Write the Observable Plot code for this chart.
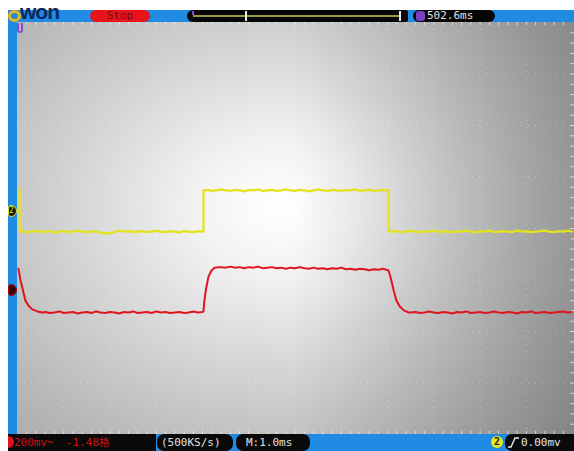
<!DOCTYPE html>
<html><head><meta charset="utf-8">
<script src="https://cdn.jsdelivr.net/npm/d3@7"></script>
<script src="https://cdn.jsdelivr.net/npm/@observablehq/plot@0.6"></script>
<style>
body{margin:0;background:#fff;width:574px;height:451px;overflow:hidden;font-family:"DejaVu Sans Mono",monospace}
#scope{position:relative;width:574px;height:451px}
.abs{position:absolute;box-sizing:border-box}
.t{position:absolute;white-space:nowrap;font-family:"DejaVu Sans Mono",monospace;font-size:11px;line-height:12px}
#plot{position:absolute;left:17px;top:22px}
</style></head><body>
<div id="scope">
  <!-- frame -->
  <div class="abs" style="left:8px;top:10px;width:566px;height:12px;background:#1f8be3"></div>
  <div class="abs" style="left:8px;top:10px;width:9px;height:424px;background:#1f8be3"></div>
  <div class="abs" style="left:8px;top:434px;width:566px;height:17px;background:#1f8be3"></div>
  <div id="plot"></div>

  <!-- top bar -->
  <div class="abs" style="left:8px;top:10px;width:13px;height:12px;border-radius:50%;border:3px solid #e8b51a"></div>
  <div class="t" style="left:20px;top:1px;font-family:'Liberation Sans',Arial,sans-serif;font-weight:bold;font-size:21px;line-height:22px;color:#0c2660;letter-spacing:-1px">won</div>
  <div class="abs" style="left:90px;top:10px;width:60px;height:12px;border-radius:6px;background:#e8141c"></div>
  <div class="t" id="stopTxt" style="left:90px;top:10px;width:60px;text-align:center;color:#7a0a0a"></div>
  <div class="abs" style="left:187px;top:10px;width:221px;height:12px;border-radius:6px 2px 2px 6px;background:#060606"></div>
  <div class="abs" style="left:193px;top:15px;width:207px;height:2px;background:#9c9a44"></div>
  <div class="abs" style="left:192px;top:11px;width:2px;height:4px;background:#8a4bd0"></div>
  <div class="abs" style="left:245px;top:11px;width:2px;height:10px;background:#e8e8e8"></div>
  <div class="abs" style="left:399px;top:11px;width:2px;height:10px;background:#e8e8e8"></div>
  <div class="abs" style="left:413px;top:10px;width:82px;height:12px;border-radius:6px;background:#060606"></div>
  <div class="abs" style="left:416px;top:11px;width:9px;height:10px;border-radius:3px;background:#7b3fc4"></div>
  <div class="t" id="trigPos" style="left:427px;top:10px;color:#e0e0e0"></div>

  <!-- left markers -->
  <div class="abs" style="left:17px;top:23px;width:6px;height:10px;border:2px solid #8a4bd0;border-top:none;border-radius:0 0 3px 3px"></div>
  <div class="abs" style="left:8px;top:205px;width:9px;height:12px;border-radius:3px 6px 6px 3px;background:#1a1a0a;border:1px solid #e3e31c"></div>
  <div class="t" style="left:9px;top:205px;font-size:8px;color:#e3e31c">2</div>
  <div class="abs" style="left:8px;top:284px;width:9px;height:12px;border-radius:3px 6px 6px 3px;background:#3a0508;border:1px solid #b00"></div>

  <!-- bottom bar -->
  <div class="abs" style="left:8px;top:434px;width:148px;height:17px;background:#0a0a0a"></div>
  <div class="abs" style="left:8px;top:436px;width:6px;height:12px;border-radius:0 6px 6px 0;background:#e0141e"></div>
  <div class="t" id="ch1Scale" style="left:14px;top:437px;color:#d0101a"></div>
  <div class="t" id="ch1Off" style="left:66px;top:437px;color:#d0101a"></div>
  <div class="abs" style="left:157px;top:434px;width:76px;height:17px;border-radius:7px;background:#0a0a0a"></div>
  <div class="t" id="rate" style="left:161px;top:437px;color:#e0e0e0"></div>
  <div class="abs" style="left:236px;top:434px;width:74px;height:17px;border-radius:7px;background:#0a0a0a"></div>
  <div class="t" id="tbase" style="left:246px;top:437px;color:#e0e0e0"></div>
  <div class="abs" style="left:505px;top:434px;width:69px;height:17px;border-radius:7px 0 0 7px;background:#0a0a0a"></div>
  <div class="abs" style="left:491px;top:436px;width:12px;height:12px;border-radius:50%;background:#e8e81a"></div>
  <div class="t" style="left:494px;top:436px;font-size:10px;font-weight:bold;color:#222">2</div>
  <svg class="abs" style="left:508px;top:437px" width="11" height="12"><polyline points="0,10 3,10 7,1 11,1" fill="none" stroke="#e8e8e8" stroke-width="1.4"/></svg>
  <div class="t" id="trigLvl" style="left:521px;top:437px;color:#e8e8e8"></div>
</div>
<script>
// status texts
const statusText = {stop: "Stop", trigPos: "502.6ms", ch1Scale: "200mv~", ch1Off: "-1.48格",
  rate: "(500KS/s)", tbase: "M:1.0ms", trigLvl: "0.00mv"};
document.getElementById("stopTxt").textContent = statusText.stop;
document.getElementById("trigPos").textContent = statusText.trigPos;
document.getElementById("ch1Scale").textContent = statusText.ch1Scale;
document.getElementById("ch1Off").textContent = statusText.ch1Off;
document.getElementById("rate").textContent = statusText.rate;
document.getElementById("tbase").textContent = statusText.tbase;
document.getElementById("trigLvl").textContent = statusText.trigLvl;

// Channel 2 (yellow): time in ms, value in divisions
const ch2T = [0.04,0.05,
 0.1,0.2,0.3,0.4,0.5,0.6,0.7,0.8,0.9,1.0,
 1.1,1.2,1.3,1.4,1.5,1.6,1.7,1.8,1.9,2.0,
 2.1,2.2,2.3,2.4,2.5,2.6,2.7,2.8,2.9,3.0,
 3.1,3.2,3.3,3.4,3.5,3.6,3.7,3.8,3.9,4.0,
 4.02,4.02,
 4.1,4.2,4.3,4.4,4.5,4.6,4.7,4.8,4.9,5.0,
 5.1,5.2,5.3,5.4,5.5,5.6,5.7,5.8,5.9,6.0,
 6.1,6.2,6.3,6.4,6.5,6.6,6.7,6.8,6.9,7.0,
 7.1,7.2,7.3,7.4,7.5,7.6,7.7,7.8,7.9,8.0,
 8.02,8.02,
 8.1,8.2,8.3,8.4,8.5,8.6,8.7,8.8,8.9,9.0,
 9.1,9.2,9.3,9.4,9.5,9.6,9.7,9.8,9.9,10.0,
 10.1,10.2,10.3,10.4,10.5,10.6,10.7,10.8,10.9,11.0,
 11.1,11.2,11.3,11.4,11.5,11.6,11.7,11.8,11.9,11.98];
const ch2V = [0.78,-0.06,
 -0.05,-0.07,-0.06,-0.04,-0.07,-0.06,-0.05,-0.08,-0.06,-0.05,
 -0.07,-0.06,-0.04,-0.06,-0.07,-0.05,-0.06,-0.08,-0.10,-0.09,
 -0.07,-0.04,-0.06,-0.05,-0.07,-0.06,-0.05,-0.07,-0.06,-0.04,
 -0.06,-0.07,-0.05,-0.06,-0.08,-0.05,-0.06,-0.07,-0.05,-0.06,
 -0.06,0.74,
 0.75,0.73,0.74,0.76,0.74,0.73,0.75,0.74,0.72,0.75,
 0.74,0.76,0.73,0.74,0.75,0.73,0.74,0.76,0.74,0.73,
 0.75,0.74,0.72,0.74,0.76,0.74,0.73,0.75,0.74,0.73,
 0.75,0.74,0.76,0.73,0.74,0.75,0.73,0.74,0.75,0.74,
 0.74,-0.06,
 -0.06,-0.05,-0.07,-0.06,-0.04,-0.06,-0.07,-0.05,-0.06,-0.04,
 -0.07,-0.05,-0.06,-0.07,-0.05,-0.06,-0.04,-0.06,-0.07,-0.05,
 -0.06,-0.04,-0.07,-0.06,-0.05,-0.06,-0.07,-0.04,-0.06,-0.05,
 -0.07,-0.06,-0.05,-0.04,-0.06,-0.07,-0.05,-0.06,-0.04,-0.06];

// Channel 1 (red)
const ch1T = [0.02,0.065,0.11,0.17,0.24,0.32,0.43,0.54,
 0.6,0.7,0.8,0.9,1.0,
 1.1,1.2,1.3,1.4,1.5,1.6,1.7,1.8,1.9,2.0,
 2.1,2.2,2.3,2.4,2.5,2.6,2.7,2.8,2.9,3.0,
 3.1,3.2,3.3,3.4,3.5,3.6,3.7,3.8,3.9,4.0,
 4.02,4.04,4.08,4.13,4.19,4.26,4.35,
 4.4,4.5,4.6,4.7,4.8,4.9,5.0,
 5.1,5.2,5.3,5.4,5.5,5.6,5.7,5.8,5.9,6.0,
 6.1,6.2,6.3,6.4,6.5,6.6,6.7,6.8,6.9,7.0,
 7.1,7.2,7.3,7.4,7.5,7.6,7.7,7.8,7.9,8.0,
 8.02,8.06,8.13,8.19,8.26,8.35,8.45,
 8.5,8.6,8.7,8.8,8.9,9.0,
 9.1,9.2,9.3,9.4,9.5,9.6,9.7,9.8,9.9,10.0,
 10.1,10.2,10.3,10.4,10.5,10.6,10.7,10.8,10.9,11.0,
 11.1,11.2,11.3,11.4,11.5,11.6,11.7,11.8,11.9,11.98];
const ch1V = [-0.78,-1.01,-1.17,-1.40,-1.50,-1.57,-1.61,-1.63,
 -1.62,-1.64,-1.63,-1.61,-1.64,
 -1.63,-1.62,-1.65,-1.63,-1.62,-1.64,-1.61,-1.63,-1.64,-1.62,
 -1.63,-1.65,-1.62,-1.63,-1.61,-1.64,-1.63,-1.62,-1.64,-1.61,
 -1.63,-1.62,-1.64,-1.63,-1.62,-1.64,-1.63,-1.61,-1.63,-1.62,
 -1.61,-1.40,-1.15,-0.93,-0.82,-0.76,-0.75,
 -0.75,-0.76,-0.74,-0.76,-0.75,-0.77,-0.75,
 -0.76,-0.74,-0.77,-0.76,-0.75,-0.77,-0.76,-0.78,-0.76,-0.77,
 -0.75,-0.77,-0.78,-0.76,-0.78,-0.77,-0.79,-0.77,-0.78,-0.76,
 -0.79,-0.78,-0.80,-0.78,-0.79,-0.81,-0.79,-0.80,-0.78,-0.81,
 -0.82,-0.93,-1.20,-1.40,-1.51,-1.59,-1.63,
 -1.63,-1.62,-1.64,-1.63,-1.61,-1.63,
 -1.64,-1.62,-1.63,-1.65,-1.62,-1.63,-1.61,-1.64,-1.63,-1.62,
 -1.64,-1.63,-1.61,-1.63,-1.64,-1.62,-1.63,-1.65,-1.62,-1.63,
 -1.61,-1.64,-1.63,-1.62,-1.64,-1.63,-1.62,-1.61,-1.63,-1.62];

const ch2 = ch2T.map((t, i) => ({t, v: ch2V[i]}));
const ch1 = ch1T.map((t, i) => ({t, v: ch1V[i]}));

// graticule
const xDivs = d3.range(1, 12);
const yDivs = d3.range(-3, 4);
const xSub = d3.range(0.2, 12, 0.2);
const ySub = d3.range(-3.8, 4, 0.2);

const plot = Plot.plot({
  width: 557, height: 412, margin: 0,
  x: {domain: [0, 12.04], axis: null},
  y: {domain: [-4, 4], axis: null},
  style: {
    background: "linear-gradient(to right, rgba(0,0,0,0) 50%, rgba(0,0,0,0.22) 100%), radial-gradient(ellipse 75% 80% at 47% 45%, #ffffff 0%, #f2f2f2 20%, #d4d4d4 50%, #b8b8b8 80%, #a8a8a8 100%)",
    overflow: "visible"
  },
  marks: [
    Plot.gridX(xDivs, {stroke: "#f4f4f4", strokeOpacity: 0.4, strokeDasharray: "1,6"}),
    Plot.gridY(yDivs, {stroke: "#f4f4f4", strokeOpacity: 0.4, strokeDasharray: "1,6"}),
    Plot.ruleX(xSub, {x: d => d, y1: 4, y2: 3.94, stroke: "#f4f4f4", strokeOpacity: 0.7}),
    Plot.ruleX(xSub, {x: d => d, y1: -4, y2: -3.94, stroke: "#f4f4f4", strokeOpacity: 0.7}),
    Plot.ruleY(ySub, {y: d => d, x1: 12.04, x2: 11.96, stroke: "#f4f4f4", strokeOpacity: 0.7}),
    Plot.line(ch2, {x: "t", y: "v", stroke: "#e3e31c", strokeWidth: 2.2}),
    Plot.line(ch1, {x: "t", y: "v", stroke: "#e0141e", strokeWidth: 2})
  ]
});
document.getElementById("plot").appendChild(plot);
</script>
</body></html>
